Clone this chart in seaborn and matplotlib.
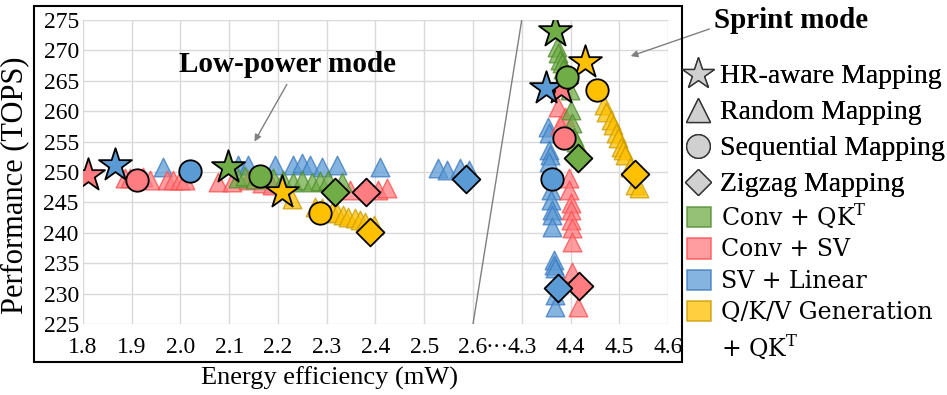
import seaborn as sns
import matplotlib.pyplot as plt
import numpy as np
from matplotlib.lines import Line2D
from matplotlib.patches import Patch, Rectangle

# workloads in order: Conv+QK^T, Conv+SV, SV+Linear, Q/K/V Generation+QK^T
workload_labels = ["Conv + QK$^\\mathregular{T}$", "Conv + SV", "SV + Linear",
                   "Q/K/V Generation", "+ QK$^\\mathregular{T}$"]
fill_colors = ["#70AD47", "#FF7C80", "#5B9BD5", "#FFC000"]
edge_colors = ["#4E8A2C", "#FF4B4B", "#3A78C0", "#C99A00"]

# HR-aware mapping (stars), one point per workload in each mode
hr_low_x = [2.098, 1.810, 1.866, 2.209]
hr_low_y = [250.8, 249.5, 251.2, 246.7]
hr_sprint_x = [4.368, 4.380, 4.349, 4.429]
hr_sprint_y = [273.2, 263.8, 263.8, 268.1]

# Sequential mapping (circles)
seq_low_x = [2.163, 1.911, 2.020, 2.287]
seq_low_y = [249.3, 248.7, 250.2, 243.3]
seq_sprint_x = [4.392, 4.386, 4.362, 4.454]
seq_sprint_y = [265.6, 255.6, 248.8, 263.5]

# Zigzag mapping (diamonds)
zz_low_x = [2.317, 2.381, 2.586, 2.389]
zz_low_y = [246.7, 246.7, 248.8, 240.1]
zz_sprint_x = [4.415, 4.417, 4.374, 4.532]
zz_sprint_y = [252.3, 231.2, 230.9, 249.7]

# Random mapping (triangles), per workload
conv_qk_rand_x = [2.118, 2.133, 2.153, 2.190, 2.211, 2.231, 2.250, 2.270, 2.287, 2.303, 2.332,
                  4.372, 4.375, 4.378, 4.382, 4.385, 4.398, 4.402, 4.404, 4.407, 4.411]
conv_qk_rand_y = [249.0, 249.3, 248.9, 249.0, 248.7, 248.4, 248.7, 248.4, 248.5, 248.7, 248.4,
                  270.5, 269.5, 268.5, 268.0, 267.0, 263.5, 260.2, 258.1, 255.8, 254.9]

conv_sv_rand_x = [1.886, 1.897, 1.923, 1.938, 1.972, 1.985, 1.999, 2.009, 2.077, 2.106, 2.139,
                  2.168, 2.188, 2.348, 2.406, 2.424,
                  4.374, 4.388, 4.378, 4.397, 4.397, 4.400, 4.401, 4.402, 4.403, 4.404, 4.404, 4.415]
conv_sv_rand_y = [249.0, 249.0, 249.2, 248.7, 248.7, 248.7, 248.7, 248.7, 248.4, 248.4, 248.7,
                  248.2, 247.9, 247.0, 247.0, 247.3,
                  260.7, 259.0, 257.7, 249.0, 247.0, 244.9, 243.8, 242.1, 240.8, 238.5, 233.6, 227.8]

sv_lin_rand_x = [1.964, 2.118, 2.139, 2.194, 2.231, 2.250, 2.266, 2.291, 2.322, 2.410, 2.529,
                 2.547, 2.574, 2.591,
                 4.353, 4.356, 4.355, 4.358, 4.355, 4.360, 4.360, 4.362, 4.362, 4.362, 4.366,
                 4.367, 4.368, 4.368, 4.368]
sv_lin_rand_y = [250.8, 251.2, 251.2, 251.2, 251.2, 251.5, 251.2, 250.8, 251.2, 250.8, 250.7,
                 250.3, 250.7, 250.3,
                 257.4, 256.4, 253.6, 252.8, 251.6, 247.0, 245.4, 243.8, 243.0, 240.9, 235.5,
                 234.7, 234.2, 229.8, 227.8]

qkv_rand_x = [2.229, 2.276, 2.291, 2.311, 2.322, 2.334, 2.344, 2.359, 2.369, 2.379, 2.396,
              4.468, 4.472, 4.483, 4.487, 4.493, 4.497, 4.503, 4.507, 4.511, 4.522, 4.532, 4.540]
qkv_rand_y = [245.6, 244.2, 244.1, 243.4, 243.3, 242.9, 242.6, 242.4, 242.1, 241.8, 241.3,
              261.0, 259.9, 258.6, 257.7, 256.4, 255.6, 254.1, 253.6, 252.8, 250.8, 247.9, 247.4]

x_ticks = [1.8, 1.9, 2.0, 2.1, 2.2, 2.3, 2.4, 2.5, 2.6, 4.3, 4.4, 4.5, 4.6]
y_ticks = [225, 230, 235, 240, 245, 250, 255, 260, 265, 270, 275]


# broken x axis: 2.6..4.3 squeezed into one tick step
def fwd(x):
    x = np.asarray(x, dtype=float)
    return np.where(x <= 2.6, x, np.where(x >= 4.3, x - 1.6, 2.6 + (x - 2.6) / 17.0))


def inv(u):
    u = np.asarray(u, dtype=float)
    return np.where(u <= 2.6, u, np.where(u >= 2.7, u + 1.6, 2.6 + (u - 2.6) * 17.0))


sns.set_style("white")
plt.rcParams['font.family'] = ['Liberation Serif', 'DejaVu Serif']
plt.rcParams['mathtext.fontset'] = 'custom'
plt.rcParams['text.color'] = 'black'

fig = plt.figure(figsize=(9.47, 3.95), dpi=100)
ax = fig.add_axes([0.0876, 0.1797, 0.6178, 0.7697])
ax.set_xscale('function', functions=(fwd, inv))

# random mapping triangles first
rand_sets = [(sv_lin_rand_x, sv_lin_rand_y, 2), (conv_sv_rand_x, conv_sv_rand_y, 1),
             (conv_qk_rand_x, conv_qk_rand_y, 0), (qkv_rand_x, qkv_rand_y, 3)]
for xs, ys, i in rand_sets:
    sns.scatterplot(x=xs, y=ys, marker='^', s=180, color=fill_colors[i], edgecolor=edge_colors[i],
                    linewidth=1.0, alpha=0.75, ax=ax, zorder=3, legend=False)

# other mappings with black edges
special = [(hr_low_x + hr_sprint_x, hr_low_y + hr_sprint_y, '*', 620),
           (seq_low_x + seq_sprint_x, seq_low_y + seq_sprint_y, 'o', 260),
           (zz_low_x + zz_sprint_x, zz_low_y + zz_sprint_y, 'D', 200)]
for xs, ys, mk, size in special:
    cols = fill_colors + fill_colors
    for x, y, c in zip(xs, ys, cols):
        sns.scatterplot(x=[x], y=[y], marker=mk, s=size, color=c, edgecolor='black',
                        linewidth=1.3, ax=ax, zorder=5, legend=False)

# break line
ax.plot([2.6, 4.3], [225, 275], color='#7F7F7F', lw=1.0, zorder=2)

ax.set_xlim(1.8, 4.6)
ax.set_ylim(225, 275)
ax.set_xticks(x_ticks)
ax.set_xticklabels([f"{t:.1f}" for t in x_ticks])
ax.set_xticks([3.45], minor=True)
ax.set_xticklabels(["\u00b7\u00b7\u00b7"], minor=True)
ax.set_yticks(y_ticks)
ax.tick_params(axis='both', which='both', length=0, labelsize=17, colors='black')
ax.tick_params(axis='x', which='both', pad=9)
ax.tick_params(axis='y', pad=3)
ax.grid(True, color='#D9D9D9', lw=1.0, zorder=0)
ax.set_axisbelow(True)
for sp in ax.spines.values():
    sp.set_visible(False)
ax.set_xlabel("")
ax.set_ylabel("")

# mode annotations
ax.text(2.219, 267.6, "Low-power mode", fontsize=21, fontweight='bold', ha='center', va='center')
ax.annotate("", xy=(2.149, 254.6), xytext=(2.221, 264.8),
            arrowprops=dict(arrowstyle='-|>', color='#808080', lw=1.0, mutation_scale=10))
fig.text(0.835, 0.949, "Sprint mode", fontsize=21, fontweight='bold', ha='center', va='center')
ax.annotate("", xy=(4.518, 268.9), xytext=(0.752, 0.929), textcoords='figure fraction',
            arrowprops=dict(arrowstyle='-|>', color='#808080', lw=1.0, mutation_scale=10),
            annotation_clip=False)

# frame around plot
fig.add_artist(Rectangle((0.0359, 0.0835), 0.6843, 0.9013, transform=fig.transFigure,
                         fill=False, lw=1.5, edgecolor='black'))

fig.text(0.016, 0.532, "Performance (TOPS)", fontsize=22, rotation=90, ha='center', va='center')
fig.text(0.348, 0.043, "Energy efficiency (mW)", fontsize=19, ha='center', va='center')

# legends
mk_handles = [Line2D([], [], marker=m, ls='none', markersize=sz, markerfacecolor='#D0D0D0',
                     markeredgecolor='#333333', markeredgewidth=1.0)
              for m, sz in [('*', 24), ('^', 17), ('o', 17), ('D', 13)]]
mk_labels = ["HR-aware Mapping", "Random Mapping", "Sequential Mapping", "Zigzag Mapping"]
leg1 = fig.legend(mk_handles, mk_labels, loc='upper left', bbox_to_anchor=(0.722, 0.838),
                  frameon=False, fontsize=20, handlelength=1.0, handletextpad=0.3,
                  labelspacing=0.38, borderpad=0, borderaxespad=0, labelcolor='black')
fig.add_artist(leg1)

patch_handles = [Patch(facecolor=fc, edgecolor=ec, alpha=0.75, lw=1.2)
                 for fc, ec in zip(fill_colors, edge_colors)]
patch_handles.append(Patch(facecolor='none', edgecolor='none'))
fig.legend(patch_handles, workload_labels, loc='upper left', bbox_to_anchor=(0.725, 0.49),
           frameon=False, prop={'family': 'DejaVu Serif', 'size': 17},
           handlelength=1.05, handleheight=0.95, handletextpad=0.4,
           labelspacing=0.34, borderpad=0, borderaxespad=0, labelcolor='black')

plt.savefig("out.png", dpi=100)
plt.close()
